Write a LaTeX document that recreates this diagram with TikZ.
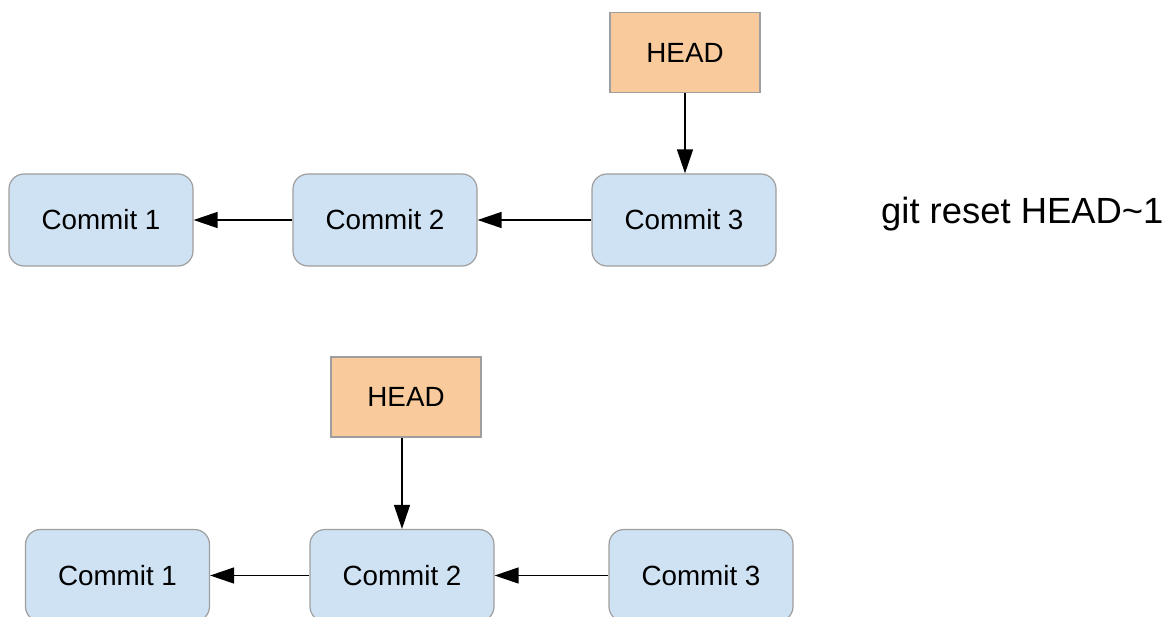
\documentclass[tikz,border=0pt]{standalone}
\usepackage{fontspec}
\setmainfont{Liberation Sans}
\usetikzlibrary{arrows.meta}
\definecolor{cfill}{HTML}{CFE2F3}
\definecolor{hfill}{HTML}{F9CB9C}
\definecolor{bord}{HTML}{9E9E9E}
\tikzset{
  commit/.style={draw=bord, line width=1.2pt, fill=cfill, rounded corners=15pt,
    minimum width=184pt, minimum height=92pt, inner sep=0pt,
    font=\fontsize{27.8}{32}\selectfont},
  headbox/.style={draw=bord, line width=1.2pt, fill=hfill,
    minimum width=150pt, minimum height=80pt, inner sep=0pt,
    font=\fontsize{27.8}{32}\selectfont},
  ptr/.style={line width=1.3pt, -{Triangle[length=24pt,width=16pt]}}
}
\begin{document}
\begin{tikzpicture}[x=1pt,y=-1pt]
\useasboundingbox (0,0) rectangle (1174,617);
\clip (0,0) rectangle (1174,617);
% top row
\node[headbox] (h1) at (685,52.5) {HEAD};
\node[commit] (a1) at (101,220) {Commit 1};
\node[commit] (a2) at (385,220) {Commit 2};
\node[commit] (a3) at (684,220) {Commit 3};
\draw[ptr] (h1) -- (h1 |- a3.north);
\draw[ptr] (a2) -- (a1);
\draw[ptr] (a3) -- (a2);
\node[anchor=west, inner sep=0pt, font=\fontsize{36.4}{40}\selectfont] (cmd) at (881,214) {git reset HEAD\char`\~1};
% bottom row
\node[headbox] (h2) at (406,397) {HEAD};
\node[commit] (b1) at (117.5,575.5) {Commit 1};
\node[commit] (b2) at (402,575.5) {Commit 2};
\node[commit] (b3) at (701,575.5) {Commit 3};
\draw[ptr] (h2.south -| b2.north) -- (b2.north);
\draw[ptr] (b2) -- (b1);
\draw[ptr] (b3) -- (b2);
\end{tikzpicture}
\end{document}
